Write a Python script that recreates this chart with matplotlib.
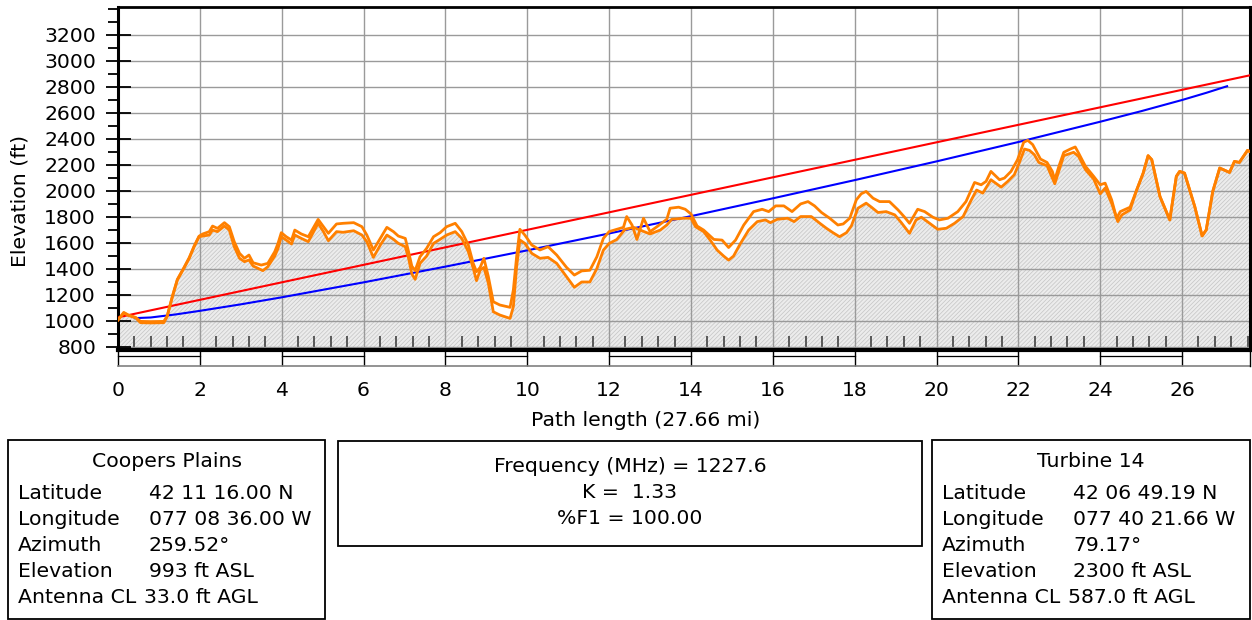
import numpy as np
import matplotlib
matplotlib.use('Agg')
import matplotlib.pyplot as plt
from matplotlib.patches import Rectangle
from matplotlib.ticker import FixedLocator

plt.rcParams['font.family'] = ['DejaVu Sans']
plt.rcParams['font.size'] = 14.7
plt.rcParams['hatch.linewidth'] = 0.5

# --- data read from the profile ---
path_mi = 27.66
los_mi = [0.0, 27.66]
los_ft = [1026, 2887]

fresnel_mi = [0.41, 0.8, 1.4, 2, 3, 4, 6, 8, 10, 12, 14, 16, 18, 20, 22, 24, 25, 26, 26.6, 27.1]
fresnel_ft = [1020, 1025, 1048, 1076, 1126, 1180, 1295, 1416, 1541, 1671, 1804, 1941, 2081, 2225,
              2374, 2530, 2611, 2697, 2753, 2803]

terrain_mi = [0.00, 0.14, 0.26, 0.43, 0.55, 0.80, 1.12, 1.20, 1.33, 1.45, 1.61, 1.74, 1.86, 1.98,
              2.07, 2.23, 2.31, 2.43, 2.60, 2.72, 2.84, 2.97, 3.09, 3.20, 3.30, 3.54, 3.66, 3.83,
              3.91, 3.99, 4.11, 4.24, 4.32, 4.48, 4.65, 4.89, 5.02, 5.14, 5.34, 5.50, 5.76, 5.96,
              6.08, 6.24, 6.41, 6.57, 6.73, 6.85, 7.02, 7.10, 7.18, 7.26, 7.38, 7.54, 7.71, 7.87,
              8.03, 8.24, 8.40, 8.56, 8.68, 8.76, 8.85, 8.94, 9.05, 9.17, 9.33, 9.58, 9.66, 9.74,
              9.82, 9.94, 10.11, 10.31, 10.51, 10.72, 10.96, 11.15, 11.33, 11.53, 11.70, 11.86,
              12.00, 12.19, 12.39, 12.60, 12.76, 13.00, 13.25, 13.41, 13.53, 13.82, 14.00, 14.11,
              14.31, 14.47, 14.64, 14.80, 14.92, 15.04, 15.21, 15.41, 15.62, 15.82, 15.94, 16.11,
              16.36, 16.52, 16.68, 16.94, 17.15, 17.31, 17.47, 17.63, 17.80, 17.92, 18.08, 18.28,
              18.41, 18.57, 18.77, 18.98, 19.14, 19.34, 19.50, 19.63, 19.83, 20.03, 20.24, 20.44,
              20.65, 20.85, 20.98, 21.13, 21.33, 21.58, 21.74, 21.90, 22.02, 22.15, 22.27, 22.39,
              22.50, 22.70, 22.89, 23.11, 23.35, 23.47, 23.64, 23.84, 24.00, 24.12, 24.28, 24.43,
              24.53, 24.73, 24.89, 25.05, 25.17, 25.26, 25.46, 25.70, 25.86, 25.94, 26.06, 26.31,
              26.49, 26.59, 26.75, 26.92, 27.16, 27.28, 27.40, 27.60, 27.66]
terrain_ft = [1005, 1060, 1040, 1022, 985, 983, 985, 1031, 1185, 1313, 1403, 1480, 1569, 1646,
              1651, 1659, 1697, 1685, 1728, 1697, 1569, 1480, 1454, 1467, 1421, 1385, 1415, 1497,
              1556, 1646, 1620, 1590, 1659, 1633, 1608, 1749, 1685, 1615, 1685, 1680, 1692, 1659,
              1608, 1487, 1582, 1659, 1626, 1595, 1569, 1480, 1360, 1318, 1441, 1497, 1595, 1626,
              1659, 1685, 1633, 1531, 1403, 1308, 1390, 1410, 1287, 1069, 1044, 1018, 1108, 1415,
              1621, 1595, 1518, 1480, 1487, 1441, 1338, 1257, 1298, 1298, 1401, 1543,
              1594, 1625, 1703, 1718, 1697, 1667, 1697, 1736, 1780, 1788, 1788, 1723,
              1685, 1620, 1543, 1497, 1466, 1497, 1594, 1697, 1762, 1775, 1754, 1780,
              1788, 1762, 1801, 1801, 1749, 1711, 1677, 1646, 1677, 1729, 1865, 1904,
              1873, 1832, 1839, 1814, 1754, 1672, 1775, 1796, 1749, 1703, 1711, 1749,
              1801, 1929, 2005, 1981, 2084, 2027, 2071, 2122, 2212, 2320, 2310, 2277,
              2217, 2192, 2053, 2269, 2295, 2264, 2161, 2089, 1976, 2020, 1902, 1762,
              1814, 1852, 2005, 2135, 2269, 2238, 1955, 1775, 2110, 2148, 2135, 1878,
              1652, 1698, 1994, 2174, 2140, 2225, 2217, 2310, 2300]

upper_mi = [0.00, 0.14, 0.26, 0.43, 0.55, 0.80, 1.12, 1.20, 1.33, 1.45, 1.61, 1.74, 1.86, 1.98,
            2.07, 2.23, 2.31, 2.43, 2.60, 2.72, 2.84, 2.97, 3.09, 3.20, 3.30, 3.50, 3.66, 3.83,
            3.91, 3.99, 4.11, 4.24, 4.32, 4.48, 4.65, 4.89, 5.02, 5.14, 5.34, 5.50, 5.76, 5.96,
            6.08, 6.24, 6.41, 6.57, 6.73, 6.85, 7.02, 7.10, 7.18, 7.26, 7.38, 7.54, 7.71, 7.87,
            8.03, 8.24, 8.40, 8.56, 8.68, 8.76, 8.85, 8.94, 9.05, 9.17, 9.33, 9.58, 9.66, 9.74,
            9.82, 9.94, 10.11, 10.31, 10.51, 10.72, 10.96, 11.15, 11.33, 11.53, 11.70, 11.86,
            12.00, 12.19, 12.35, 12.43, 12.56, 12.68, 12.84, 13.00, 13.17, 13.41, 13.49, 13.70,
            13.86, 14.00, 14.15, 14.31, 14.56, 14.76, 14.92, 15.09, 15.29, 15.53, 15.74, 15.90,
            16.07, 16.27, 16.47, 16.68, 16.86, 17.02, 17.19, 17.39, 17.59, 17.72, 17.88, 18.04,
            18.16, 18.28, 18.45, 18.61, 18.85, 19.06, 19.22, 19.34, 19.54, 19.71, 19.91, 20.07,
            20.28, 20.52, 20.72, 20.93, 21.09, 21.21, 21.33, 21.54, 21.66, 21.82, 21.98, 22.13,
            22.23, 22.35, 22.46, 22.54, 22.70, 22.83, 22.89, 22.99, 23.11, 23.27, 23.39, 23.47,
            23.64, 23.84, 24.00, 24.12, 24.28, 24.40, 24.49, 24.73, 24.89, 25.05, 25.17, 25.26,
            25.46, 25.70, 25.86, 25.94, 26.06, 26.31, 26.49, 26.59, 26.75, 26.92, 27.16, 27.28,
            27.40, 27.60, 27.66]
upper_ft = [1005, 1064, 1043, 1026, 995, 993, 995, 1035, 1190, 1318, 1408, 1485, 1574, 1650,
            1667, 1685, 1728, 1710, 1754, 1723, 1608, 1518, 1480, 1505, 1446, 1428, 1441, 1531,
            1595, 1677, 1646, 1620, 1697, 1667, 1646, 1779, 1723, 1672, 1744, 1749, 1754, 1723,
            1659, 1544, 1633, 1718, 1685, 1651, 1633, 1531, 1420, 1385, 1492, 1556, 1646, 1677,
            1723, 1749, 1685, 1582, 1441, 1377, 1410, 1480, 1338, 1146, 1121, 1103, 1236, 1492,
            1703, 1659, 1582, 1544, 1569, 1505, 1410, 1351, 1383, 1388, 1491, 1633,
            1685, 1703, 1718, 1801, 1736, 1625, 1788, 1685, 1723, 1780, 1865, 1873,
            1857, 1821, 1728, 1697, 1625, 1620, 1563, 1620, 1736, 1839, 1857, 1839,
            1883, 1883, 1839, 1898, 1916, 1883, 1832, 1788, 1736, 1744, 1788, 1929,
            1976, 1994, 1942, 1916, 1916, 1852, 1796, 1749, 1857, 1839, 1796, 1775,
            1788, 1839, 1916, 2063, 2045, 2071, 2148, 2084, 2097, 2148, 2238, 2372,
            2387, 2354, 2290, 2243, 2217, 2148, 2084, 2187, 2295, 2320, 2336, 2290,
            2187, 2110, 2045, 2058, 1929, 1788, 1839, 1873, 2005, 2135, 2269, 2238,
            1955, 1775, 2110, 2148, 2135, 1878, 1652, 1698, 1994, 2174, 2140, 2225,
            2217, 2310, 2300]

x_major = list(range(0, 27, 2))
y_major = list(range(800, 3201, 200))

site_names = ['Coopers Plains', 'Turbine 14']
row_labels = ['Latitude', 'Longitude', 'Azimuth', 'Elevation', 'Antenna CL']
site_a = ['42 11 16.00 N', '077 08 36.00 W', '259.52°', '993 ft ASL', '33.0 ft AGL']
site_b = ['42 06 49.19 N', '077 40 21.66 W', '79.17°', '2300 ft ASL', '587.0 ft AGL']
link_info = ['Frequency (MHz) = 1227.6', 'K =  1.33', '%F1 = 100.00']

W, H = 1252, 620
fig = plt.figure(figsize=(W / 100, H / 100), dpi=100)
ax = fig.add_axes([118 / W, 1 - 350 / H, (1250 - 118) / W, (350 - 7) / H])


def ptext(x, y, s, **kw):
    fig.text(x / W, 1 - y / H, s, **kw)


def pbox(x0, y0, x1, y1):
    fig.add_artist(Rectangle((x0 / W, 1 - y1 / H), (x1 - x0) / W, (y1 - y0) / H,
                             transform=fig.transFigure, fill=False, edgecolor='black', lw=1.3))


# terrain fill and profile lines
ax.fill_between(terrain_mi, terrain_ft, 0, facecolor='#ececec', edgecolor='#c4c4c4',
                hatch='////////', linewidth=0, zorder=1)
ax.plot(upper_mi, upper_ft, color='#ff8000', lw=2.0, zorder=4)
ax.plot(terrain_mi, terrain_ft, color='#ff8000', lw=2.0, zorder=4)
ax.plot(los_mi, los_ft, color='#ff0000', lw=1.5, zorder=3)
ax.plot(fresnel_mi, fresnel_ft, color='#0000ff', lw=1.5, zorder=3)

ax.set_xlim(0, path_mi)
ax.set_ylim(775, 3412)
ax.set_axisbelow('line')
ax.grid(True, color='#9a9a9a', lw=1.0)

ax.xaxis.set_major_locator(FixedLocator(x_major))
ax.xaxis.set_minor_locator(FixedLocator(np.arange(0.4, path_mi, 0.4)))
ax.yaxis.set_major_locator(FixedLocator(y_major))
ax.yaxis.set_minor_locator(FixedLocator(np.arange(900, 3401, 100)))
ax.tick_params(axis='x', which='major', direction='out', length=11.5, width=1.0, pad=11)
ax.tick_params(axis='x', which='minor', direction='in', length=10, width=1.1, color='#333333')
ax.tick_params(axis='y', which='major', direction='inout', length=18, width=1.3, pad=6.8)
ax.tick_params(axis='y', which='minor', direction='out', length=7.2, width=1.3)

ax.spines['left'].set_linewidth(2.2)
ax.spines['bottom'].set_linewidth(3.0)
ax.spines['top'].set_linewidth(2.0)
ax.spines['right'].set_linewidth(2.2)

# distance ruler under the axis
xt = ax.get_xaxis_transform()
for x0 in x_major[::2]:
    ax.plot([x0, min(x0 + 2, path_mi)], [-0.0175, -0.0175], color='black', lw=0.9,
            transform=xt, clip_on=False)
ax.plot([0, path_mi], [-0.0466, -0.0466], color='#808080', lw=1.2, transform=xt, clip_on=False)
ax.plot([path_mi, path_mi], [0, -0.0466], color='black', lw=1.0, transform=xt, clip_on=False)

ptext(646, 421, 'Path length (27.66 mi)', ha='center', va='center')
ptext(20, 201, 'Elevation (ft)', ha='center', va='center', rotation=90)

# site boxes
for (x0, x1), name, vals in zip([(8, 325), (932, 1250)], site_names, [site_a, site_b]):
    pbox(x0, 440, x1, 619)
    ptext((x0 + x1) / 2, 467, name, ha='center', va='baseline')
    for i, (lab, val) in enumerate(zip(row_labels, vals)):
        yb = 499 + 26 * i
        ptext(x0 + 10, yb, lab, ha='left', va='baseline')
        vx = x0 + 141 if lab != 'Antenna CL' else x0 + 136
        ptext(vx, yb, val, ha='left', va='baseline')

pbox(338, 441, 922, 546)
for i, line in enumerate(link_info):
    ptext(630, 472 + 26 * i, line, ha='center', va='baseline')

fig.savefig('out.png', dpi=100)
